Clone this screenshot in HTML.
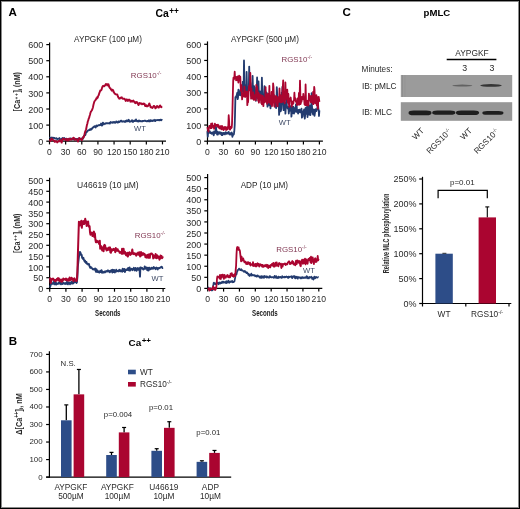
<!DOCTYPE html>
<html><head><meta charset="utf-8"><style>
html,body{margin:0;padding:0;background:#fff;}
#fig{position:relative;width:520px;height:509px;overflow:hidden;background:#fff;}
#fig svg{position:absolute;left:0;top:0;will-change:transform;}
#frame{position:absolute;left:0;top:0;width:518px;height:507px;border:1px solid #000;box-shadow:inset 0 0 0 1px #8a8a8a;pointer-events:none;}
text{font-family:"Liberation Sans", sans-serif;}
</style></head><body>
<div id="fig">
<svg width="520" height="509" viewBox="0 0 520 509" font-family='"Liberation Sans", sans-serif'>
<text x="8.6" y="16" font-size="11.6" text-anchor="start" font-weight="bold" fill="#000" >A</text>
<text x="342.6" y="16" font-size="11.6" text-anchor="start" font-weight="bold" fill="#000" >C</text>
<text x="8.8" y="344.8" font-size="11.6" text-anchor="start" font-weight="bold" fill="#000" >B</text>
<text x="155.6" y="17.4" font-size="10.4" font-weight="bold" fill="#000">Ca<tspan font-size="8.2" dx="0.4" dy="-3.4">++</tspan></text>
<text x="128.5" y="345.7" font-size="9.9" font-weight="bold" fill="#000">Ca<tspan font-size="8.0" dx="0.5" dy="-3.2">++</tspan></text>
<text x="423.6" y="16.4" font-size="9.6" text-anchor="start" font-weight="bold" fill="#000" >pMLC</text>
<line x1="49.6" y1="42.4" x2="49.6" y2="141.8" stroke="#000" stroke-width="1.2"/>
<line x1="46.3" y1="141.2" x2="49.6" y2="141.2" stroke="#000" stroke-width="1.2"/>
<text x="43.2" y="144.8" font-size="9.0" text-anchor="end" font-weight="normal" fill="#2a2a2a" >0</text>
<line x1="46.3" y1="125.1" x2="49.6" y2="125.1" stroke="#000" stroke-width="1.2"/>
<text x="43.2" y="128.7" font-size="9.0" text-anchor="end" font-weight="normal" fill="#2a2a2a" >100</text>
<line x1="46.3" y1="109" x2="49.6" y2="109" stroke="#000" stroke-width="1.2"/>
<text x="43.2" y="112.6" font-size="9.0" text-anchor="end" font-weight="normal" fill="#2a2a2a" >200</text>
<line x1="46.3" y1="92.9" x2="49.6" y2="92.9" stroke="#000" stroke-width="1.2"/>
<text x="43.2" y="96.5" font-size="9.0" text-anchor="end" font-weight="normal" fill="#2a2a2a" >300</text>
<line x1="46.3" y1="76.8" x2="49.6" y2="76.8" stroke="#000" stroke-width="1.2"/>
<text x="43.2" y="80.4" font-size="9.0" text-anchor="end" font-weight="normal" fill="#2a2a2a" >400</text>
<line x1="46.3" y1="60.7" x2="49.6" y2="60.7" stroke="#000" stroke-width="1.2"/>
<text x="43.2" y="64.3" font-size="9.0" text-anchor="end" font-weight="normal" fill="#2a2a2a" >500</text>
<line x1="46.3" y1="44.6" x2="49.6" y2="44.6" stroke="#000" stroke-width="1.2"/>
<text x="43.2" y="48.2" font-size="9.0" text-anchor="end" font-weight="normal" fill="#2a2a2a" >600</text>
<line x1="49.5" y1="141.2" x2="166" y2="141.2" stroke="#000" stroke-width="1.2"/>
<line x1="49.5" y1="141.2" x2="49.5" y2="144.4" stroke="#000" stroke-width="1.2"/>
<text x="49.5" y="155" font-size="8.6" text-anchor="middle" font-weight="normal" fill="#2a2a2a" >0</text>
<line x1="65.64" y1="141.2" x2="65.64" y2="144.4" stroke="#000" stroke-width="1.2"/>
<text x="65.64" y="155" font-size="8.6" text-anchor="middle" font-weight="normal" fill="#2a2a2a" >30</text>
<line x1="81.78" y1="141.2" x2="81.78" y2="144.4" stroke="#000" stroke-width="1.2"/>
<text x="81.78" y="155" font-size="8.6" text-anchor="middle" font-weight="normal" fill="#2a2a2a" >60</text>
<line x1="97.92" y1="141.2" x2="97.92" y2="144.4" stroke="#000" stroke-width="1.2"/>
<text x="97.92" y="155" font-size="8.6" text-anchor="middle" font-weight="normal" fill="#2a2a2a" >90</text>
<line x1="114.06" y1="141.2" x2="114.06" y2="144.4" stroke="#000" stroke-width="1.2"/>
<text x="114.06" y="155" font-size="8.6" text-anchor="middle" font-weight="normal" fill="#2a2a2a" >120</text>
<line x1="130.2" y1="141.2" x2="130.2" y2="144.4" stroke="#000" stroke-width="1.2"/>
<text x="130.2" y="155" font-size="8.6" text-anchor="middle" font-weight="normal" fill="#2a2a2a" >150</text>
<line x1="146.34" y1="141.2" x2="146.34" y2="144.4" stroke="#000" stroke-width="1.2"/>
<text x="146.34" y="155" font-size="8.6" text-anchor="middle" font-weight="normal" fill="#2a2a2a" >180</text>
<line x1="162.48" y1="141.2" x2="162.48" y2="144.4" stroke="#000" stroke-width="1.2"/>
<text x="162.48" y="155" font-size="8.6" text-anchor="middle" font-weight="normal" fill="#2a2a2a" >210</text>
<text x="108" y="42.2" font-size="8.2" text-anchor="middle" font-weight="normal" fill="#2a2a2a" >AYPGKF (100 &#181;M)</text>
<text transform="translate(20.4,91.7) rotate(-90)" x="0" y="0" font-size="9.0" text-anchor="middle" font-weight="bold" fill="#2a2a2a" textLength="39.4" lengthAdjust="spacingAndGlyphs">[Ca<tspan font-size="6.0" dy="-2.6" dx="0.6" letter-spacing="0.8">++</tspan><tspan dy="2.6">]</tspan><tspan font-size="5.5" dy="1.5">i</tspan><tspan dy="-1.5"> (nM)</tspan></text>
<polyline points="49.5,137.9 49.9,137.6 50.4,137.6 50.8,138.4 51.2,138.2 51.7,137.6 52.1,138.1 52.5,138.1 52.9,137.7 53.4,137.9 53.8,138.0 54.2,137.9 54.7,138.2 55.1,138.5 55.5,138.5 56.0,138.3 56.4,138.2 56.8,138.6 57.2,139.0 57.7,139.0 58.1,138.8 58.5,138.9 59.0,138.5 59.4,138.1 59.8,139.6 60.3,140.6 60.7,139.7 61.1,139.2 61.6,139.0 62.0,138.8 62.4,138.1 62.8,138.6 63.3,139.5 63.7,138.3 64.1,138.0 64.6,138.5 65.0,138.9 65.4,139.7 65.9,139.5 66.3,138.8 66.7,139.4 67.1,139.6 67.6,139.2 68.0,139.3 68.4,139.3 68.9,138.9 69.3,138.9 69.7,139.1 70.2,138.9 70.6,138.4 71.0,138.5 71.5,139.1 71.9,139.0 72.3,138.9 72.7,138.8 73.2,139.0 73.6,139.0 74.0,138.6 74.5,139.4 74.9,139.5 75.3,139.0 75.8,138.8 76.2,139.2 76.6,139.7 77.0,139.3 77.5,139.0 77.9,139.0 78.3,138.6 78.8,139.3 79.2,139.5 79.6,138.4 80.1,138.6 80.5,139.3 80.9,139.0 81.3,138.6 81.8,138.5 82.2,138.7 82.6,139.1 83.1,138.3 83.5,137.2 83.9,136.1 84.4,135.2 84.8,135.4 85.2,135.2 85.7,133.6 86.1,132.2 86.5,132.0 86.9,131.9 87.4,131.2 87.8,130.7 88.2,130.3 88.7,130.1 89.1,130.2 89.5,130.1 90.0,129.3 90.4,129.8 90.8,129.9 91.2,128.8 91.7,129.0 92.1,128.6 92.5,128.0 93.0,127.5 93.4,127.1 93.8,126.9 94.3,126.3 94.7,126.2 95.1,126.8 95.6,127.4 96.0,126.2 96.4,125.6 96.8,126.3 97.3,126.1 97.7,125.7 98.1,125.3 98.6,125.1 99.0,125.2 99.4,125.3 99.9,125.0 100.3,125.0 100.7,124.7 101.1,123.6 101.6,124.3 102.0,125.6 102.4,124.6 102.9,122.7 103.3,123.1 103.7,124.4 104.2,123.8 104.6,123.6 105.0,123.9 105.5,123.7 105.9,123.2 106.3,123.2 106.7,123.2 107.2,123.1 107.6,123.4 108.0,123.4 108.5,123.4 108.9,123.2 109.3,123.2 109.8,123.6 110.2,122.6 110.6,122.1 111.0,122.6 111.5,122.4 111.9,122.4 112.3,122.7 112.8,122.3 113.2,122.0 113.6,122.6 114.1,122.3 114.5,122.0 114.9,122.7 115.4,122.7 115.8,122.5 116.2,121.5 116.6,121.8 117.1,122.3 117.5,122.6 117.9,122.6 118.4,121.5 118.8,121.5 119.2,122.0 119.7,121.8 120.1,121.3 120.5,121.1 120.9,120.6 121.4,120.7 121.8,121.6 122.2,121.7 122.7,121.5 123.1,121.4 123.5,121.3 124.0,121.3 124.4,121.8 124.8,121.6 125.3,121.1 125.7,121.8 126.1,121.3 126.5,120.4 127.0,120.4 127.4,120.8 127.8,121.3 128.3,120.3 128.7,119.7 129.1,121.1 129.6,121.7 130.0,121.3 130.4,121.6 130.8,121.5 131.3,121.1 131.7,120.7 132.1,120.2 132.6,121.6 133.0,121.9 133.4,121.5 133.9,121.1 134.3,120.5 134.7,120.7 135.1,121.1 135.6,120.7 136.0,119.5 136.4,120.6 136.9,121.2 137.3,121.0 137.7,121.1 138.2,121.4 138.6,120.7 139.0,120.5 139.5,121.3 139.9,120.8 140.3,120.9 140.7,121.2 141.2,121.1 141.6,121.1 142.0,121.3 142.5,121.4 142.9,121.0 143.3,121.0 143.8,120.9 144.2,120.9 144.6,120.6 145.0,120.6 145.5,120.9 145.9,121.1 146.3,121.2 146.8,121.4 147.2,121.0 147.6,120.9 148.1,121.3 148.5,120.8 148.9,120.3 149.4,120.6 149.8,121.4 150.2,121.1 150.6,120.2 151.1,120.9 151.5,120.7 151.9,120.4 152.4,121.1 152.8,120.7 153.2,120.4 153.7,120.3 154.1,120.8 154.5,120.2 154.9,119.8 155.4,121.0 155.8,120.5 156.2,120.1 156.7,120.1 157.1,120.1 157.5,120.2 158.0,120.0 158.4,120.2 158.8,120.0 159.3,119.9 159.7,120.4 160.1,120.2 160.5,119.7 161.0,119.8 161.4,120.2 161.8,119.9 162.3,120.2" fill="none" stroke="#233b6f" stroke-width="1.9" stroke-linejoin="round"/>
<polyline points="49.5,139.4 49.9,139.7 50.4,141.0 50.8,140.1 51.2,139.4 51.7,138.6 52.1,139.1 52.5,139.7 52.9,140.0 53.4,140.2 53.8,140.6 54.2,140.7 54.7,141.8 55.1,141.6 55.5,141.6 56.0,141.0 56.4,141.6 56.8,141.6 57.2,142.4 57.7,141.8 58.1,141.6 58.5,140.9 59.0,140.9 59.4,141.3 59.8,140.9 60.3,140.0 60.7,140.1 61.1,141.1 61.6,142.6 62.0,141.3 62.4,140.2 62.8,138.8 63.3,138.8 63.7,138.8 64.1,139.1 64.6,139.5 65.0,139.2 65.4,139.9 65.9,140.0 66.3,140.2 66.7,138.8 67.1,139.0 67.6,139.6 68.0,140.7 68.4,139.8 68.9,139.4 69.3,138.5 69.7,139.8 70.2,139.2 70.6,139.3 71.0,139.1 71.5,139.5 71.9,139.4 72.3,138.7 72.7,138.3 73.2,137.8 73.6,137.7 74.0,138.2 74.5,139.7 74.9,139.5 75.3,139.5 75.8,139.2 76.2,139.5 76.6,139.1 77.0,139.5 77.5,140.1 77.9,141.6 78.3,140.5 78.8,139.7 79.2,137.9 79.6,138.5 80.1,138.8 80.5,139.3 80.9,139.3 81.3,139.5 81.8,140.2 82.2,139.3 82.6,138.2 83.1,137.1 83.5,137.6 83.9,136.5 84.4,134.7 84.8,133.1 85.2,131.5 85.7,130.4 86.1,129.2 86.5,127.2 86.9,125.1 87.4,123.5 87.8,121.3 88.2,120.6 88.7,118.5 89.1,118.0 89.5,116.2 90.0,114.7 90.4,113.0 90.8,111.9 91.2,111.3 91.7,110.5 92.1,109.9 92.5,108.7 93.0,107.2 93.4,105.0 93.8,103.6 94.3,101.7 94.7,101.0 95.1,100.5 95.6,99.8 96.0,99.6 96.4,98.1 96.8,98.6 97.3,97.1 97.7,97.7 98.1,96.0 98.6,95.4 99.0,94.1 99.4,92.9 99.9,91.7 100.3,90.4 100.7,90.7 101.1,90.3 101.6,89.6 102.0,88.0 102.4,86.8 102.9,86.1 103.3,85.8 103.7,86.2 104.2,86.2 104.6,85.9 105.0,85.5 105.5,84.6 105.9,83.9 106.3,84.3 106.7,84.4 107.2,85.4 107.6,84.2 108.0,84.6 108.5,84.3 108.9,86.1 109.3,87.1 109.8,87.9 110.2,88.4 110.6,88.4 111.0,89.7 111.5,89.7 111.9,90.7 112.3,89.7 112.8,90.6 113.2,90.2 113.6,92.1 114.1,92.2 114.5,93.6 114.9,93.6 115.4,94.2 115.8,94.4 116.2,94.4 116.6,94.5 117.1,94.4 117.5,95.0 117.9,96.4 118.4,97.5 118.8,97.9 119.2,98.7 119.7,98.2 120.1,98.4 120.5,97.6 120.9,97.7 121.4,97.4 121.8,97.3 122.2,98.4 122.7,98.7 123.1,98.7 123.5,98.8 124.0,98.6 124.4,98.7 124.8,99.3 125.3,99.9 125.7,100.9 126.1,99.5 126.5,99.4 127.0,99.4 127.4,100.5 127.8,101.0 128.3,100.7 128.7,99.7 129.1,99.6 129.6,99.7 130.0,100.3 130.4,101.7 130.8,101.5 131.3,101.5 131.7,100.8 132.1,101.4 132.6,101.6 133.0,100.8 133.4,100.5 133.9,101.4 134.3,101.7 134.7,102.8 135.1,102.2 135.6,103.2 136.0,102.1 136.4,102.8 136.9,102.0 137.3,102.5 137.7,103.0 138.2,104.6 138.6,105.0 139.0,103.8 139.5,102.9 139.9,102.9 140.3,103.7 140.7,103.5 141.2,103.5 141.6,103.4 142.0,104.3 142.5,104.1 142.9,103.7 143.3,104.0 143.8,103.6 144.2,104.0 144.6,103.8 145.0,105.8 145.5,106.0 145.9,105.6 146.3,105.2 146.8,106.4 147.2,106.3 147.6,106.4 148.1,105.9 148.5,105.3 148.9,104.0 149.4,103.4 149.8,105.0 150.2,105.7 150.6,107.2 151.1,107.0 151.5,107.6 151.9,107.2 152.4,108.0 152.8,107.4 153.2,106.8 153.7,106.0 154.1,105.9 154.5,106.4 154.9,107.0 155.4,108.3 155.8,108.1 156.2,107.2 156.7,106.4 157.1,106.0 157.5,106.9 158.0,107.0 158.4,107.6 158.8,107.6 159.3,106.5 159.7,105.7 160.1,105.4 160.5,106.6 161.0,107.0 161.4,107.3 161.8,106.7 162.3,106.6" fill="none" stroke="#aa0530" stroke-width="1.9" stroke-linejoin="round"/>
<text x="130.8" y="77.7" font-size="7.9" fill="#803752">RGS10<tspan font-size="4.9" dy="-3.2">-/-</tspan></text>
<text x="134.1" y="130.6" font-size="7.6" text-anchor="start" font-weight="normal" fill="#3b4763" >WT</text>
<line x1="207.5" y1="41.4" x2="207.5" y2="141.8" stroke="#000" stroke-width="1.2"/>
<line x1="204.2" y1="141.2" x2="207.5" y2="141.2" stroke="#000" stroke-width="1.2"/>
<text x="201.2" y="144.8" font-size="9.0" text-anchor="end" font-weight="normal" fill="#2a2a2a" >0</text>
<line x1="204.2" y1="125.05" x2="207.5" y2="125.05" stroke="#000" stroke-width="1.2"/>
<text x="201.2" y="128.65" font-size="9.0" text-anchor="end" font-weight="normal" fill="#2a2a2a" >100</text>
<line x1="204.2" y1="108.9" x2="207.5" y2="108.9" stroke="#000" stroke-width="1.2"/>
<text x="201.2" y="112.5" font-size="9.0" text-anchor="end" font-weight="normal" fill="#2a2a2a" >200</text>
<line x1="204.2" y1="92.75" x2="207.5" y2="92.75" stroke="#000" stroke-width="1.2"/>
<text x="201.2" y="96.35" font-size="9.0" text-anchor="end" font-weight="normal" fill="#2a2a2a" >300</text>
<line x1="204.2" y1="76.6" x2="207.5" y2="76.6" stroke="#000" stroke-width="1.2"/>
<text x="201.2" y="80.2" font-size="9.0" text-anchor="end" font-weight="normal" fill="#2a2a2a" >400</text>
<line x1="204.2" y1="60.45" x2="207.5" y2="60.45" stroke="#000" stroke-width="1.2"/>
<text x="201.2" y="64.05" font-size="9.0" text-anchor="end" font-weight="normal" fill="#2a2a2a" >500</text>
<line x1="204.2" y1="44.3" x2="207.5" y2="44.3" stroke="#000" stroke-width="1.2"/>
<text x="201.2" y="47.9" font-size="9.0" text-anchor="end" font-weight="normal" fill="#2a2a2a" >600</text>
<line x1="207.4" y1="141.2" x2="322.9" y2="141.2" stroke="#000" stroke-width="1.2"/>
<line x1="207.4" y1="141.2" x2="207.4" y2="144.4" stroke="#000" stroke-width="1.2"/>
<text x="207.4" y="155" font-size="8.6" text-anchor="middle" font-weight="normal" fill="#2a2a2a" >0</text>
<line x1="223.4" y1="141.2" x2="223.4" y2="144.4" stroke="#000" stroke-width="1.2"/>
<text x="223.4" y="155" font-size="8.6" text-anchor="middle" font-weight="normal" fill="#2a2a2a" >30</text>
<line x1="239.4" y1="141.2" x2="239.4" y2="144.4" stroke="#000" stroke-width="1.2"/>
<text x="239.4" y="155" font-size="8.6" text-anchor="middle" font-weight="normal" fill="#2a2a2a" >60</text>
<line x1="255.4" y1="141.2" x2="255.4" y2="144.4" stroke="#000" stroke-width="1.2"/>
<text x="255.4" y="155" font-size="8.6" text-anchor="middle" font-weight="normal" fill="#2a2a2a" >90</text>
<line x1="271.4" y1="141.2" x2="271.4" y2="144.4" stroke="#000" stroke-width="1.2"/>
<text x="271.4" y="155" font-size="8.6" text-anchor="middle" font-weight="normal" fill="#2a2a2a" >120</text>
<line x1="287.4" y1="141.2" x2="287.4" y2="144.4" stroke="#000" stroke-width="1.2"/>
<text x="287.4" y="155" font-size="8.6" text-anchor="middle" font-weight="normal" fill="#2a2a2a" >150</text>
<line x1="303.4" y1="141.2" x2="303.4" y2="144.4" stroke="#000" stroke-width="1.2"/>
<text x="303.4" y="155" font-size="8.6" text-anchor="middle" font-weight="normal" fill="#2a2a2a" >180</text>
<line x1="319.4" y1="141.2" x2="319.4" y2="144.4" stroke="#000" stroke-width="1.2"/>
<text x="319.4" y="155" font-size="8.6" text-anchor="middle" font-weight="normal" fill="#2a2a2a" >210</text>
<text x="265" y="42.2" font-size="8.2" text-anchor="middle" font-weight="normal" fill="#2a2a2a" >AYPGKF (500 &#181;M)</text>
<polyline points="207.4,131.1 207.8,136.6 208.1,132.1 208.5,133.1 208.9,131.7 209.3,132.7 209.6,131.1 210.0,131.7 210.4,133.1 210.8,132.6 211.1,132.7 211.5,133.7 211.9,133.5 212.3,132.5 212.6,132.5 213.0,133.9 213.4,133.7 213.7,135.4 214.1,131.4 214.5,133.6 214.9,132.3 215.2,133.1 215.6,131.2 216.0,126.8 216.4,130.6 216.7,131.7 217.1,134.5 217.5,132.0 217.9,134.5 218.2,132.8 218.6,132.3 219.0,133.2 219.3,132.1 219.7,133.5 220.1,133.9 220.5,132.3 220.8,132.5 221.2,133.8 221.6,135.0 222.0,132.8 222.3,135.2 222.7,134.2 223.1,134.4 223.5,132.8 223.8,133.4 224.2,133.1 224.6,133.3 224.9,134.4 225.3,133.1 225.7,132.1 226.1,133.7 226.4,133.0 226.8,133.9 227.2,132.6 227.6,133.0 227.9,132.8 228.3,133.4 228.7,131.9 229.1,134.2 229.4,134.2 229.8,134.5 230.2,133.1 230.5,134.5 230.9,134.6 231.3,133.0 231.7,132.5 232.0,133.2 232.4,136.9 232.8,135.0 233.2,135.1 233.5,134.6 233.9,134.1 234.3,131.2 234.7,125.3 235.0,115.0 235.4,97.2 235.8,97.7 236.1,96.1 236.5,97.1 236.9,94.2 237.3,92.6 237.6,99.1 238.0,97.9 238.4,89.7 238.8,90.1 239.1,93.6 239.5,94.9 239.9,92.4 240.3,95.3 240.6,92.8 241.0,87.0 241.4,91.4 241.7,88.4 242.1,86.4 242.5,87.6 242.9,81.6 243.2,92.4 243.6,92.5 244.0,60.4 244.4,84.2 244.7,87.0 245.1,88.9 245.5,95.3 245.9,92.1 246.2,93.8 246.6,71.8 247.0,85.3 247.3,94.1 247.7,90.6 248.1,91.5 248.5,88.2 248.8,90.7 249.2,66.6 249.6,82.4 250.0,84.0 250.3,82.9 250.7,88.5 251.1,95.8 251.5,89.0 251.8,93.7 252.2,96.0 252.6,75.8 252.9,86.4 253.3,93.8 253.7,91.3 254.1,86.1 254.4,90.6 254.8,96.0 255.2,91.0 255.6,93.3 255.9,100.8 256.3,87.6 256.7,92.5 257.1,77.5 257.4,87.3 257.8,97.9 258.2,93.2 258.5,81.4 258.9,95.0 259.3,100.3 259.7,95.6 260.0,91.4 260.4,97.9 260.8,95.1 261.2,97.3 261.5,94.5 261.9,77.6 262.3,94.7 262.7,99.6 263.0,97.4 263.4,100.8 263.8,101.5 264.1,93.9 264.5,86.1 264.9,96.5 265.3,99.4 265.6,91.3 266.0,97.2 266.4,99.3 266.8,92.9 267.1,101.1 267.5,106.7 267.9,105.3 268.3,104.4 268.6,99.8 269.0,97.9 269.4,105.0 269.7,97.0 270.1,104.2 270.5,108.4 270.9,103.9 271.2,100.1 271.6,101.4 272.0,99.8 272.4,102.8 272.7,100.3 273.1,98.4 273.5,99.1 273.9,95.0 274.2,97.2 274.6,99.3 275.0,97.1 275.3,101.5 275.7,104.9 276.1,108.1 276.5,99.4 276.8,87.2 277.2,93.7 277.6,104.1 278.0,102.4 278.3,98.4 278.7,102.6 279.1,114.9 279.5,109.1 279.8,100.3 280.2,107.1 280.6,111.3 280.9,110.8 281.3,108.5 281.7,92.6 282.1,99.9 282.4,86.8 282.8,94.7 283.2,104.4 283.6,110.2 283.9,109.8 284.3,107.5 284.7,109.1 285.1,102.6 285.4,113.7 285.8,107.4 286.2,107.7 286.5,98.8 286.9,106.1 287.3,107.8 287.7,107.7 288.0,108.8 288.4,107.0 288.8,113.5 289.2,107.7 289.5,111.0 289.9,109.7 290.3,106.8 290.7,108.0 291.0,105.8 291.4,116.7 291.8,113.4 292.1,107.0 292.5,113.2 292.9,111.5 293.3,106.7 293.6,108.8 294.0,113.6 294.4,108.2 294.8,108.7 295.1,111.0 295.5,111.5 295.9,104.5 296.3,111.9 296.6,104.5 297.0,110.6 297.4,110.4 297.7,110.3 298.1,113.7 298.5,109.9 298.9,110.6 299.2,111.6 299.6,109.7 300.0,112.4 300.4,112.3 300.7,111.4 301.1,111.8 301.5,108.7 301.9,117.7 302.2,112.5 302.6,116.8 303.0,113.1 303.3,111.2 303.7,111.8 304.1,109.4 304.5,111.0 304.8,118.7 305.2,114.6 305.6,107.9 306.0,107.9 306.3,107.9 306.7,113.9 307.1,106.4 307.5,117.0 307.8,103.3 308.2,108.0 308.6,111.2 308.9,114.7 309.3,112.7 309.7,105.4 310.1,111.1 310.4,115.1 310.8,111.7 311.2,111.5 311.6,93.2 311.9,104.2 312.3,111.8 312.7,112.7 313.1,114.5 313.4,111.1 313.8,109.4 314.2,110.1 314.5,115.8 314.9,113.4 315.3,110.4 315.7,109.2 316.0,110.6 316.4,111.1 316.8,109.7 317.2,109.0 317.5,107.1 317.9,101.2 318.3,108.1 318.7,110.1 319.0,116.0 319.4,110.4" fill="none" stroke="#233b6f" stroke-width="1.8" stroke-linejoin="round"/>
<polyline points="207.4,127.1 207.8,129.1 208.1,129.8 208.5,131.5 208.9,128.1 209.3,125.9 209.6,127.4 210.0,126.7 210.4,126.0 210.8,128.3 211.1,123.7 211.5,128.2 211.9,126.4 212.3,123.3 212.6,126.8 213.0,126.4 213.4,127.1 213.7,125.9 214.1,128.9 214.5,126.9 214.9,123.7 215.2,125.5 215.6,126.0 216.0,125.1 216.4,124.9 216.7,125.3 217.1,125.0 217.5,126.7 217.9,124.7 218.2,127.2 218.6,125.5 219.0,126.7 219.3,128.4 219.7,127.3 220.1,128.6 220.5,126.1 220.8,127.6 221.2,126.6 221.6,129.3 222.0,125.9 222.3,128.6 222.7,126.6 223.1,127.4 223.5,130.0 223.8,128.2 224.2,129.3 224.6,128.1 224.9,126.8 225.3,127.7 225.7,127.2 226.1,130.1 226.4,128.3 226.8,128.1 227.2,127.2 227.6,129.4 227.9,127.9 228.3,126.5 228.7,115.2 229.1,120.7 229.4,126.8 229.8,129.7 230.2,129.7 230.5,126.8 230.9,127.5 231.3,128.1 231.7,127.5 232.0,124.1 232.4,112.1 232.8,95.7 233.2,80.8 233.5,77.6 233.9,79.4 234.3,78.1 234.7,71.7 235.0,77.3 235.4,78.0 235.8,76.9 236.1,80.4 236.5,77.3 236.9,80.1 237.3,76.7 237.6,76.5 238.0,79.6 238.4,82.7 238.8,79.4 239.1,75.7 239.5,76.9 239.9,78.3 240.3,76.7 240.6,85.1 241.0,91.0 241.4,84.9 241.7,88.9 242.1,99.4 242.5,93.1 242.9,96.8 243.2,95.3 243.6,95.4 244.0,96.1 244.4,86.7 244.7,91.3 245.1,97.0 245.5,95.5 245.9,94.3 246.2,91.7 246.6,96.1 247.0,91.7 247.3,105.2 247.7,101.0 248.1,102.2 248.5,94.5 248.8,88.4 249.2,85.3 249.6,90.1 250.0,84.0 250.3,72.9 250.7,84.9 251.1,98.7 251.5,88.6 251.8,96.4 252.2,95.8 252.6,96.2 252.9,98.9 253.3,92.3 253.7,99.8 254.1,99.2 254.4,98.3 254.8,95.2 255.2,99.9 255.6,100.2 255.9,97.9 256.3,84.9 256.7,95.5 257.1,86.7 257.4,91.1 257.8,97.0 258.2,101.0 258.5,92.9 258.9,102.7 259.3,99.2 259.7,95.6 260.0,94.5 260.4,97.9 260.8,96.9 261.2,103.0 261.5,95.3 261.9,104.3 262.3,101.7 262.7,95.9 263.0,96.8 263.4,106.1 263.8,97.8 264.1,101.3 264.5,102.5 264.9,99.2 265.3,99.5 265.6,87.1 266.0,101.7 266.4,99.8 266.8,100.5 267.1,103.9 267.5,94.6 267.9,93.9 268.3,102.3 268.6,98.9 269.0,101.1 269.4,85.8 269.7,102.6 270.1,97.4 270.5,104.3 270.9,95.6 271.2,99.2 271.6,92.0 272.0,106.1 272.4,100.8 272.7,100.6 273.1,83.4 273.5,86.8 273.9,97.7 274.2,105.6 274.6,106.7 275.0,99.9 275.3,96.3 275.7,96.7 276.1,95.9 276.5,101.8 276.8,102.1 277.2,106.1 277.6,106.3 278.0,97.2 278.3,101.9 278.7,99.8 279.1,101.9 279.5,88.4 279.8,95.8 280.2,94.8 280.6,97.9 280.9,102.4 281.3,96.0 281.7,96.7 282.1,102.1 282.4,91.3 282.8,86.8 283.2,80.4 283.6,99.1 283.9,101.7 284.3,100.1 284.7,103.3 285.1,100.0 285.4,82.5 285.8,94.2 286.2,98.4 286.5,94.7 286.9,99.2 287.3,89.7 287.7,102.7 288.0,99.5 288.4,94.0 288.8,102.9 289.2,106.9 289.5,100.4 289.9,100.4 290.3,98.8 290.7,97.5 291.0,100.4 291.4,101.5 291.8,106.6 292.1,104.1 292.5,101.7 292.9,103.4 293.3,103.7 293.6,100.9 294.0,100.6 294.4,92.7 294.8,99.7 295.1,97.9 295.5,98.6 295.9,101.9 296.3,101.9 296.6,101.3 297.0,105.1 297.4,102.5 297.7,98.3 298.1,100.1 298.5,104.5 298.9,92.9 299.2,104.8 299.6,98.9 300.0,80.6 300.4,96.6 300.7,104.0 301.1,100.9 301.5,101.6 301.9,96.9 302.2,99.5 302.6,99.4 303.0,98.9 303.3,93.9 303.7,98.4 304.1,97.7 304.5,104.1 304.8,98.5 305.2,105.3 305.6,84.4 306.0,100.5 306.3,104.1 306.7,105.1 307.1,101.4 307.5,100.7 307.8,103.1 308.2,105.5 308.6,103.9 308.9,93.6 309.3,97.2 309.7,100.4 310.1,96.8 310.4,96.3 310.8,102.0 311.2,95.8 311.6,97.3 311.9,102.4 312.3,98.0 312.7,103.5 313.1,91.9 313.4,104.2 313.8,96.0 314.2,86.9 314.5,89.4 314.9,99.6 315.3,103.4 315.7,100.3 316.0,99.7 316.4,95.2 316.8,105.3 317.2,96.9 317.5,99.2 317.9,108.6 318.3,99.1 318.7,96.9 319.0,98.8 319.4,101.9" fill="none" stroke="#aa0530" stroke-width="1.8" stroke-linejoin="round"/>
<text x="281.5" y="62" font-size="7.9" fill="#803752">RGS10<tspan font-size="4.9" dy="-3.2">-/-</tspan></text>
<text x="278.8" y="125" font-size="7.6" text-anchor="start" font-weight="normal" fill="#3b4763" >WT</text>
<line x1="49.6" y1="177.7" x2="49.6" y2="289.1" stroke="#000" stroke-width="1.2"/>
<line x1="46.3" y1="288.5" x2="49.6" y2="288.5" stroke="#000" stroke-width="1.2"/>
<text x="43.2" y="292.1" font-size="9.0" text-anchor="end" font-weight="normal" fill="#2a2a2a" >0</text>
<line x1="46.3" y1="277.7" x2="49.6" y2="277.7" stroke="#000" stroke-width="1.2"/>
<text x="43.2" y="281.3" font-size="9.0" text-anchor="end" font-weight="normal" fill="#2a2a2a" >50</text>
<line x1="46.3" y1="266.9" x2="49.6" y2="266.9" stroke="#000" stroke-width="1.2"/>
<text x="43.2" y="270.5" font-size="9.0" text-anchor="end" font-weight="normal" fill="#2a2a2a" >100</text>
<line x1="46.3" y1="256.1" x2="49.6" y2="256.1" stroke="#000" stroke-width="1.2"/>
<text x="43.2" y="259.7" font-size="9.0" text-anchor="end" font-weight="normal" fill="#2a2a2a" >150</text>
<line x1="46.3" y1="245.3" x2="49.6" y2="245.3" stroke="#000" stroke-width="1.2"/>
<text x="43.2" y="248.9" font-size="9.0" text-anchor="end" font-weight="normal" fill="#2a2a2a" >200</text>
<line x1="46.3" y1="234.5" x2="49.6" y2="234.5" stroke="#000" stroke-width="1.2"/>
<text x="43.2" y="238.1" font-size="9.0" text-anchor="end" font-weight="normal" fill="#2a2a2a" >250</text>
<line x1="46.3" y1="223.7" x2="49.6" y2="223.7" stroke="#000" stroke-width="1.2"/>
<text x="43.2" y="227.3" font-size="9.0" text-anchor="end" font-weight="normal" fill="#2a2a2a" >300</text>
<line x1="46.3" y1="212.9" x2="49.6" y2="212.9" stroke="#000" stroke-width="1.2"/>
<text x="43.2" y="216.5" font-size="9.0" text-anchor="end" font-weight="normal" fill="#2a2a2a" >350</text>
<line x1="46.3" y1="202.1" x2="49.6" y2="202.1" stroke="#000" stroke-width="1.2"/>
<text x="43.2" y="205.7" font-size="9.0" text-anchor="end" font-weight="normal" fill="#2a2a2a" >400</text>
<line x1="46.3" y1="191.3" x2="49.6" y2="191.3" stroke="#000" stroke-width="1.2"/>
<text x="43.2" y="194.9" font-size="9.0" text-anchor="end" font-weight="normal" fill="#2a2a2a" >450</text>
<line x1="46.3" y1="180.5" x2="49.6" y2="180.5" stroke="#000" stroke-width="1.2"/>
<text x="43.2" y="184.1" font-size="9.0" text-anchor="end" font-weight="normal" fill="#2a2a2a" >500</text>
<line x1="49.6" y1="288.5" x2="165.3" y2="288.5" stroke="#000" stroke-width="1.2"/>
<line x1="49.7" y1="288.5" x2="49.7" y2="291.7" stroke="#000" stroke-width="1.2"/>
<text x="49.7" y="302.3" font-size="8.6" text-anchor="middle" font-weight="normal" fill="#2a2a2a" >0</text>
<line x1="65.9" y1="288.5" x2="65.9" y2="291.7" stroke="#000" stroke-width="1.2"/>
<text x="65.9" y="302.3" font-size="8.6" text-anchor="middle" font-weight="normal" fill="#2a2a2a" >30</text>
<line x1="82.1" y1="288.5" x2="82.1" y2="291.7" stroke="#000" stroke-width="1.2"/>
<text x="82.1" y="302.3" font-size="8.6" text-anchor="middle" font-weight="normal" fill="#2a2a2a" >60</text>
<line x1="98.3" y1="288.5" x2="98.3" y2="291.7" stroke="#000" stroke-width="1.2"/>
<text x="98.3" y="302.3" font-size="8.6" text-anchor="middle" font-weight="normal" fill="#2a2a2a" >90</text>
<line x1="114.5" y1="288.5" x2="114.5" y2="291.7" stroke="#000" stroke-width="1.2"/>
<text x="114.5" y="302.3" font-size="8.6" text-anchor="middle" font-weight="normal" fill="#2a2a2a" >120</text>
<line x1="130.7" y1="288.5" x2="130.7" y2="291.7" stroke="#000" stroke-width="1.2"/>
<text x="130.7" y="302.3" font-size="8.6" text-anchor="middle" font-weight="normal" fill="#2a2a2a" >150</text>
<line x1="146.9" y1="288.5" x2="146.9" y2="291.7" stroke="#000" stroke-width="1.2"/>
<text x="146.9" y="302.3" font-size="8.6" text-anchor="middle" font-weight="normal" fill="#2a2a2a" >180</text>
<line x1="163.1" y1="288.5" x2="163.1" y2="291.7" stroke="#000" stroke-width="1.2"/>
<text x="163.1" y="302.3" font-size="8.6" text-anchor="middle" font-weight="normal" fill="#2a2a2a" >210</text>
<text x="107.9" y="188" font-size="8.5" text-anchor="middle" font-weight="normal" fill="#2a2a2a" >U46619 (10 &#181;M)</text>
<text transform="translate(20,233.3) rotate(-90)" x="0" y="0" font-size="9.0" text-anchor="middle" font-weight="bold" fill="#2a2a2a" textLength="39.6" lengthAdjust="spacingAndGlyphs">[Ca<tspan font-size="6.0" dy="-2.6" dx="0.6" letter-spacing="0.8">++</tspan><tspan dy="2.6">]</tspan><tspan font-size="5.5" dy="1.5">i</tspan><tspan dy="-1.5"> (nM)</tspan></text>
<polyline points="49.7,287.4 50.1,287.0 50.6,285.2 51.0,284.1 51.4,283.2 51.9,283.7 52.3,283.9 52.7,283.9 53.2,282.7 53.6,281.9 54.0,283.0 54.5,284.3 54.9,284.0 55.3,281.9 55.7,283.0 56.2,284.6 56.6,283.2 57.0,284.1 57.5,283.7 57.9,283.5 58.3,283.7 58.8,282.6 59.2,283.1 59.6,283.5 60.1,282.7 60.5,282.4 60.9,284.4 61.4,283.2 61.8,283.8 62.2,283.1 62.7,284.0 63.1,282.9 63.5,283.0 64.0,283.2 64.4,283.8 64.8,283.2 65.3,283.8 65.7,284.0 66.1,282.7 66.5,283.7 67.0,281.8 67.4,282.2 67.8,284.4 68.3,282.5 68.7,283.7 69.1,282.7 69.6,282.7 70.0,284.3 70.4,282.9 70.9,282.9 71.3,281.9 71.7,283.6 72.2,282.0 72.6,283.5 73.0,282.9 73.5,283.3 73.9,281.4 74.3,282.1 74.8,280.5 75.2,282.0 75.6,281.8 76.1,281.8 76.5,283.0 76.9,282.5 77.3,278.2 77.8,267.2 78.2,263.1 78.6,259.7 79.1,255.6 79.5,252.8 79.9,251.9 80.4,252.5 80.8,253.6 81.2,255.3 81.7,254.8 82.1,257.6 82.5,258.2 83.0,259.0 83.4,257.8 83.8,259.6 84.3,260.7 84.7,261.6 85.1,260.7 85.6,262.4 86.0,263.0 86.4,261.9 86.9,263.8 87.3,263.5 87.7,263.7 88.1,264.5 88.6,264.7 89.0,264.0 89.4,265.9 89.9,267.0 90.3,267.9 90.7,267.0 91.2,267.5 91.6,267.5 92.0,268.5 92.5,268.8 92.9,269.3 93.3,269.4 93.8,269.0 94.2,269.7 94.6,269.6 95.1,268.4 95.5,269.8 95.9,271.7 96.4,269.3 96.8,270.7 97.2,272.0 97.7,270.7 98.1,271.6 98.5,272.2 98.9,272.2 99.4,272.5 99.8,271.7 100.2,270.8 100.7,272.0 101.1,271.4 101.5,270.2 102.0,272.7 102.4,271.5 102.8,272.0 103.3,272.6 103.7,272.6 104.1,271.8 104.6,271.5 105.0,272.3 105.4,271.8 105.9,271.2 106.3,271.6 106.7,271.1 107.2,271.5 107.6,271.4 108.0,270.3 108.5,271.2 108.9,271.6 109.3,271.0 109.7,272.3 110.2,271.8 110.6,270.8 111.0,270.9 111.5,270.1 111.9,271.3 112.3,272.5 112.8,269.7 113.2,270.3 113.6,272.0 114.1,270.0 114.5,271.1 114.9,272.5 115.4,271.3 115.8,271.4 116.2,269.6 116.7,271.5 117.1,271.0 117.5,271.0 118.0,271.0 118.4,271.4 118.8,270.5 119.3,269.7 119.7,270.0 120.1,271.3 120.5,271.4 121.0,270.3 121.4,270.9 121.8,270.8 122.3,271.7 122.7,268.7 123.1,269.5 123.6,271.0 124.0,269.4 124.4,269.0 124.9,272.0 125.3,270.5 125.7,270.3 126.2,269.4 126.6,270.0 127.0,270.1 127.5,269.9 127.9,268.3 128.3,268.0 128.8,270.2 129.2,270.5 129.6,267.5 130.1,270.5 130.5,270.1 130.9,269.5 131.3,269.1 131.8,268.7 132.2,269.2 132.6,270.2 133.1,269.0 133.5,269.2 133.9,267.8 134.4,269.3 134.8,270.4 135.2,270.1 135.7,268.0 136.1,269.6 136.5,270.8 137.0,269.6 137.4,269.0 137.8,268.1 138.3,269.8 138.7,268.4 139.1,268.3 139.6,269.5 140.0,276.6 140.4,267.4 140.9,267.5 141.3,268.2 141.7,268.6 142.1,267.9 142.6,268.9 143.0,268.8 143.4,269.5 143.9,268.7 144.3,268.8 144.7,266.4 145.2,268.8 145.6,267.6 146.0,267.5 146.5,268.7 146.9,267.6 147.3,270.3 147.8,268.5 148.2,267.8 148.6,270.5 149.1,269.4 149.5,267.6 149.9,268.6 150.4,269.3 150.8,268.7 151.2,268.8 151.7,267.7 152.1,267.9 152.5,268.5 152.9,268.8 153.4,268.3 153.8,267.1 154.2,267.9 154.7,267.7 155.1,268.3 155.5,269.2 156.0,268.7 156.4,267.6 156.8,268.0 157.3,268.8 157.7,269.4 158.1,267.9 158.6,268.3 159.0,268.3 159.4,268.2 159.9,267.7 160.3,267.7 160.7,267.1 161.2,267.1 161.6,266.7 162.0,267.2 162.5,268.1 162.9,267.8" fill="none" stroke="#233b6f" stroke-width="1.9" stroke-linejoin="round"/>
<polyline points="49.7,279.2 50.2,278.4 50.7,283.0 51.2,280.4 51.6,279.1 52.1,278.8 52.6,279.5 53.1,278.6 53.6,279.9 54.1,279.6 54.6,279.9 55.0,281.3 55.5,281.0 56.0,279.7 56.5,280.7 57.0,278.7 57.5,278.7 58.0,278.1 58.4,280.0 58.9,278.5 59.4,281.0 59.9,280.9 60.4,279.9 60.9,279.6 61.4,281.7 61.9,281.8 62.3,279.5 62.8,280.8 63.3,278.6 63.8,279.4 64.3,279.5 64.8,279.6 65.3,278.8 65.7,280.0 66.2,278.6 66.7,280.3 67.2,280.0 67.7,280.5 68.2,279.1 68.7,279.7 69.1,280.6 69.6,277.5 70.1,280.0 70.6,279.8 71.1,279.2 71.6,277.7 72.1,279.8 72.5,278.8 73.0,279.5 73.5,281.1 74.0,278.7 74.5,278.4 75.0,279.8 75.5,279.5 75.9,281.1 76.4,281.1 76.9,279.9 77.4,271.6 77.9,253.6 78.4,237.8 78.9,221.8 79.3,225.0 79.8,225.5 80.3,222.1 80.8,224.7 81.3,220.7 81.8,227.8 82.3,223.7 82.7,221.7 83.2,221.1 83.7,224.1 84.2,224.0 84.7,222.5 85.2,218.8 85.7,221.5 86.2,221.2 86.6,225.9 87.1,224.9 87.6,225.2 88.1,221.4 88.6,226.2 89.1,226.7 89.6,226.2 90.0,232.3 90.5,234.8 91.0,232.5 91.5,234.2 92.0,232.7 92.5,236.1 93.0,233.7 93.4,232.6 93.9,231.6 94.4,237.1 94.9,233.6 95.4,239.6 95.9,242.2 96.4,242.2 96.8,240.6 97.3,242.1 97.8,241.2 98.3,241.7 98.8,242.6 99.3,244.2 99.8,240.7 100.2,248.7 100.7,248.1 101.2,246.1 101.7,247.8 102.2,250.5 102.7,247.5 103.2,247.7 103.6,251.2 104.1,245.4 104.6,244.9 105.1,245.4 105.6,248.8 106.1,248.0 106.6,250.5 107.0,248.4 107.5,250.1 108.0,248.3 108.5,249.7 109.0,247.5 109.5,247.9 110.0,247.4 110.4,252.3 110.9,252.8 111.4,249.2 111.9,250.9 112.4,249.4 112.9,249.7 113.4,250.0 113.9,248.9 114.3,249.6 114.8,249.9 115.3,252.2 115.8,248.1 116.3,250.7 116.8,249.3 117.3,250.6 117.7,249.3 118.2,251.1 118.7,251.1 119.2,251.4 119.7,252.8 120.2,252.7 120.7,252.1 121.1,252.2 121.6,253.6 122.1,248.7 122.6,253.8 123.1,252.9 123.6,248.8 124.1,253.6 124.5,251.6 125.0,251.9 125.5,253.3 126.0,255.2 126.5,255.5 127.0,253.2 127.5,252.7 127.9,256.6 128.4,253.2 128.9,254.5 129.4,252.2 129.9,253.4 130.4,254.9 130.9,254.4 131.3,253.8 131.8,251.9 132.3,249.4 132.8,253.5 133.3,254.0 133.8,253.2 134.3,254.2 134.8,253.3 135.2,253.7 135.7,254.4 136.2,255.7 136.7,254.3 137.2,253.2 137.7,254.5 138.2,252.4 138.6,253.3 139.1,254.9 139.6,252.2 140.1,256.5 140.6,253.1 141.1,252.1 141.6,255.4 142.0,255.2 142.5,253.7 143.0,253.0 143.5,254.5 144.0,254.8 144.5,253.9 145.0,254.9 145.4,257.2 145.9,255.7 146.4,255.5 146.9,257.8 147.4,254.9 147.9,256.7 148.4,254.4 148.8,257.8 149.3,257.0 149.8,257.8 150.3,253.7 150.8,253.8 151.3,253.5 151.8,253.5 152.2,254.4 152.7,254.4 153.2,258.4 153.7,255.4 154.2,256.6 154.7,256.4 155.2,257.8 155.6,254.0 156.1,255.7 156.6,258.3 157.1,255.3 157.6,256.2 158.1,257.7 158.6,256.6 159.0,257.4 159.5,259.7 160.0,258.6 160.5,255.6 161.0,255.9 161.5,256.0 162.0,258.2 162.5,257.4 162.9,256.4" fill="none" stroke="#aa0530" stroke-width="2.0" stroke-linejoin="round"/>
<text x="134.7" y="237.8" font-size="7.9" fill="#803752">RGS10<tspan font-size="4.9" dy="-3.2">-/-</tspan></text>
<text x="151.6" y="281.1" font-size="7.6" text-anchor="start" font-weight="normal" fill="#3b4763" >WT</text>
<text x="107.8" y="315.9" font-size="8.9" text-anchor="middle" font-weight="bold" fill="#1a1a1a" textLength="25.4" lengthAdjust="spacingAndGlyphs">Seconds</text>
<line x1="207.6" y1="174.1" x2="207.6" y2="289" stroke="#000" stroke-width="1.2"/>
<line x1="204.3" y1="288.4" x2="207.6" y2="288.4" stroke="#000" stroke-width="1.2"/>
<text x="201.2" y="292" font-size="9.0" text-anchor="end" font-weight="normal" fill="#2a2a2a" >0</text>
<line x1="204.3" y1="277.32" x2="207.6" y2="277.32" stroke="#000" stroke-width="1.2"/>
<text x="201.2" y="280.92" font-size="9.0" text-anchor="end" font-weight="normal" fill="#2a2a2a" >50</text>
<line x1="204.3" y1="266.24" x2="207.6" y2="266.24" stroke="#000" stroke-width="1.2"/>
<text x="201.2" y="269.84" font-size="9.0" text-anchor="end" font-weight="normal" fill="#2a2a2a" >100</text>
<line x1="204.3" y1="255.16" x2="207.6" y2="255.16" stroke="#000" stroke-width="1.2"/>
<text x="201.2" y="258.76" font-size="9.0" text-anchor="end" font-weight="normal" fill="#2a2a2a" >150</text>
<line x1="204.3" y1="244.08" x2="207.6" y2="244.08" stroke="#000" stroke-width="1.2"/>
<text x="201.2" y="247.68" font-size="9.0" text-anchor="end" font-weight="normal" fill="#2a2a2a" >200</text>
<line x1="204.3" y1="233" x2="207.6" y2="233" stroke="#000" stroke-width="1.2"/>
<text x="201.2" y="236.6" font-size="9.0" text-anchor="end" font-weight="normal" fill="#2a2a2a" >250</text>
<line x1="204.3" y1="221.92" x2="207.6" y2="221.92" stroke="#000" stroke-width="1.2"/>
<text x="201.2" y="225.52" font-size="9.0" text-anchor="end" font-weight="normal" fill="#2a2a2a" >300</text>
<line x1="204.3" y1="210.84" x2="207.6" y2="210.84" stroke="#000" stroke-width="1.2"/>
<text x="201.2" y="214.44" font-size="9.0" text-anchor="end" font-weight="normal" fill="#2a2a2a" >350</text>
<line x1="204.3" y1="199.76" x2="207.6" y2="199.76" stroke="#000" stroke-width="1.2"/>
<text x="201.2" y="203.36" font-size="9.0" text-anchor="end" font-weight="normal" fill="#2a2a2a" >400</text>
<line x1="204.3" y1="188.68" x2="207.6" y2="188.68" stroke="#000" stroke-width="1.2"/>
<text x="201.2" y="192.28" font-size="9.0" text-anchor="end" font-weight="normal" fill="#2a2a2a" >450</text>
<line x1="204.3" y1="177.6" x2="207.6" y2="177.6" stroke="#000" stroke-width="1.2"/>
<text x="201.2" y="181.2" font-size="9.0" text-anchor="end" font-weight="normal" fill="#2a2a2a" >500</text>
<line x1="207.6" y1="288.4" x2="322.3" y2="288.4" stroke="#000" stroke-width="1.2"/>
<line x1="207.7" y1="288.4" x2="207.7" y2="291.6" stroke="#000" stroke-width="1.2"/>
<text x="207.7" y="302.3" font-size="8.6" text-anchor="middle" font-weight="normal" fill="#2a2a2a" >0</text>
<line x1="223.57" y1="288.4" x2="223.57" y2="291.6" stroke="#000" stroke-width="1.2"/>
<text x="223.57" y="302.3" font-size="8.6" text-anchor="middle" font-weight="normal" fill="#2a2a2a" >30</text>
<line x1="239.44" y1="288.4" x2="239.44" y2="291.6" stroke="#000" stroke-width="1.2"/>
<text x="239.44" y="302.3" font-size="8.6" text-anchor="middle" font-weight="normal" fill="#2a2a2a" >60</text>
<line x1="255.31" y1="288.4" x2="255.31" y2="291.6" stroke="#000" stroke-width="1.2"/>
<text x="255.31" y="302.3" font-size="8.6" text-anchor="middle" font-weight="normal" fill="#2a2a2a" >90</text>
<line x1="271.18" y1="288.4" x2="271.18" y2="291.6" stroke="#000" stroke-width="1.2"/>
<text x="271.18" y="302.3" font-size="8.6" text-anchor="middle" font-weight="normal" fill="#2a2a2a" >120</text>
<line x1="287.05" y1="288.4" x2="287.05" y2="291.6" stroke="#000" stroke-width="1.2"/>
<text x="287.05" y="302.3" font-size="8.6" text-anchor="middle" font-weight="normal" fill="#2a2a2a" >150</text>
<line x1="302.92" y1="288.4" x2="302.92" y2="291.6" stroke="#000" stroke-width="1.2"/>
<text x="302.92" y="302.3" font-size="8.6" text-anchor="middle" font-weight="normal" fill="#2a2a2a" >180</text>
<line x1="318.79" y1="288.4" x2="318.79" y2="291.6" stroke="#000" stroke-width="1.2"/>
<text x="318.79" y="302.3" font-size="8.6" text-anchor="middle" font-weight="normal" fill="#2a2a2a" >210</text>
<text x="264.3" y="187.7" font-size="8.2" text-anchor="middle" font-weight="normal" fill="#2a2a2a" >ADP (10 &#181;M)</text>
<polyline points="207.7,287.3 208.1,287.4 208.5,288.0 209.0,288.7 209.4,288.7 209.8,289.4 210.2,289.0 210.7,288.4 211.1,289.9 211.5,290.3 211.9,289.9 212.4,290.3 212.8,288.3 213.2,286.0 213.6,283.1 214.0,282.6 214.5,283.9 214.9,283.3 215.3,284.2 215.7,283.7 216.2,284.1 216.6,283.0 217.0,283.6 217.4,282.6 217.9,282.6 218.3,282.8 218.7,284.3 219.1,282.9 219.5,282.6 220.0,282.4 220.4,283.5 220.8,282.8 221.2,283.1 221.7,282.9 222.1,281.6 222.5,282.8 222.9,282.3 223.4,281.6 223.8,282.6 224.2,282.2 224.6,282.1 225.1,282.1 225.5,282.9 225.9,282.0 226.3,281.2 226.7,283.1 227.2,281.5 227.6,281.9 228.0,282.4 228.4,280.7 228.9,281.5 229.3,282.8 229.7,281.9 230.1,281.5 230.6,282.0 231.0,281.4 231.4,281.9 231.8,281.4 232.2,280.9 232.7,282.3 233.1,281.7 233.5,282.1 233.9,281.7 234.4,281.7 234.8,279.5 235.2,277.5 235.6,275.4 236.1,273.9 236.5,274.3 236.9,272.6 237.3,270.3 237.7,270.8 238.2,269.5 238.6,269.4 239.0,268.6 239.4,269.1 239.9,269.9 240.3,270.1 240.7,270.1 241.1,269.1 241.6,270.5 242.0,270.5 242.4,270.2 242.8,270.7 243.2,270.9 243.7,271.7 244.1,271.3 244.5,271.8 244.9,271.0 245.4,271.6 245.8,272.4 246.2,272.2 246.6,273.1 247.1,272.4 247.5,273.4 247.9,273.3 248.3,274.8 248.8,274.0 249.2,275.6 249.6,276.0 250.0,275.0 250.4,275.4 250.9,274.8 251.3,273.5 251.7,275.6 252.1,275.5 252.6,275.0 253.0,274.9 253.4,275.4 253.8,275.5 254.3,275.0 254.7,275.2 255.1,276.3 255.5,275.7 255.9,275.7 256.4,276.5 256.8,275.7 257.2,276.5 257.6,275.4 258.1,276.0 258.5,276.1 258.9,276.6 259.3,276.4 259.8,277.7 260.2,277.2 260.6,276.3 261.0,278.0 261.4,276.1 261.9,277.9 262.3,276.3 262.7,277.4 263.1,276.4 263.6,276.8 264.0,277.9 264.4,276.1 264.8,275.9 265.3,277.0 265.7,277.1 266.1,277.0 266.5,277.6 266.9,276.2 267.4,277.3 267.8,277.0 268.2,277.5 268.6,277.4 269.1,277.8 269.5,276.1 269.9,277.1 270.3,276.3 270.8,277.0 271.2,277.4 271.6,277.2 272.0,277.4 272.4,277.0 272.9,277.2 273.3,277.2 273.7,277.9 274.1,277.5 274.6,275.9 275.0,277.5 275.4,277.7 275.8,276.8 276.3,276.1 276.7,278.0 277.1,277.2 277.5,277.5 278.0,278.2 278.4,276.6 278.8,277.1 279.2,277.0 279.6,277.6 280.1,276.8 280.5,277.4 280.9,277.2 281.3,277.8 281.8,277.9 282.2,276.2 282.6,277.4 283.0,276.9 283.5,277.1 283.9,277.4 284.3,277.5 284.7,276.7 285.1,277.3 285.6,277.2 286.0,277.1 286.4,276.4 286.8,276.7 287.3,276.9 287.7,277.5 288.1,278.1 288.5,276.6 289.0,276.5 289.4,277.3 289.8,276.8 290.2,276.7 290.6,276.7 291.1,276.6 291.5,277.5 291.9,276.2 292.3,278.1 292.8,276.7 293.2,276.9 293.6,276.7 294.0,276.0 294.5,276.3 294.9,278.0 295.3,278.4 295.7,276.7 296.1,277.9 296.6,277.3 297.0,276.7 297.4,278.4 297.8,278.7 298.3,277.1 298.7,277.3 299.1,277.5 299.5,277.3 300.0,277.9 300.4,278.3 300.8,277.4 301.2,278.0 301.7,278.4 302.1,277.0 302.5,277.4 302.9,277.1 303.3,278.0 303.8,277.8 304.2,278.0 304.6,278.0 305.0,277.2 305.5,277.9 305.9,277.2 306.3,277.2 306.7,276.1 307.2,278.3 307.6,276.8 308.0,277.5 308.4,277.4 308.8,278.4 309.3,277.7 309.7,276.9 310.1,277.5 310.5,277.4 311.0,277.6 311.4,276.7 311.8,277.5 312.2,278.9 312.7,277.9 313.1,278.8 313.5,279.6 313.9,277.8 314.3,276.6 314.8,277.5 315.2,278.3 315.6,278.1 316.0,276.8 316.5,277.4 316.9,277.5 317.3,277.6 317.7,277.5 318.2,277.0 318.6,277.2" fill="none" stroke="#233b6f" stroke-width="1.7" stroke-linejoin="round"/>
<polyline points="207.7,289.2 208.1,289.0 208.5,289.2 209.0,288.3 209.4,290.7 209.8,288.6 210.2,290.1 210.7,288.6 211.1,289.1 211.5,288.9 211.9,288.9 212.4,289.1 212.8,287.4 213.2,286.5 213.6,289.3 214.0,288.3 214.5,289.5 214.9,287.7 215.3,290.0 215.7,289.1 216.2,288.2 216.6,284.7 217.0,278.7 217.4,276.4 217.9,276.9 218.3,277.0 218.7,276.9 219.1,276.4 219.5,278.6 220.0,274.9 220.4,277.5 220.8,279.0 221.2,276.5 221.7,274.8 222.1,276.9 222.5,274.6 222.9,274.6 223.4,277.2 223.8,278.9 224.2,277.6 224.6,274.9 225.1,277.1 225.5,277.8 225.9,277.6 226.3,276.1 226.7,276.1 227.2,275.1 227.6,275.0 228.0,277.1 228.4,276.2 228.9,277.3 229.3,275.9 229.7,277.3 230.1,277.3 230.6,273.6 231.0,275.9 231.4,275.2 231.8,273.1 232.2,275.0 232.7,276.0 233.1,275.8 233.5,276.7 233.9,274.6 234.4,276.2 234.8,273.8 235.2,276.2 235.6,271.1 236.1,265.5 236.5,254.6 236.9,248.0 237.3,247.0 237.7,249.5 238.2,248.9 238.6,247.4 239.0,250.2 239.4,249.7 239.9,250.8 240.3,254.3 240.7,257.9 241.1,261.3 241.6,256.7 242.0,259.1 242.4,258.5 242.8,260.7 243.2,258.5 243.7,260.3 244.1,261.1 244.5,262.4 244.9,261.3 245.4,262.4 245.8,262.2 246.2,264.0 246.6,262.9 247.1,262.3 247.5,264.0 247.9,262.7 248.3,262.2 248.8,263.5 249.2,264.0 249.6,264.2 250.0,262.6 250.4,265.5 250.9,264.3 251.3,264.6 251.7,264.1 252.1,264.4 252.6,265.6 253.0,262.2 253.4,264.3 253.8,266.0 254.3,265.6 254.7,264.5 255.1,264.0 255.5,266.3 255.9,264.0 256.4,266.4 256.8,265.8 257.2,264.1 257.6,263.2 258.1,265.2 258.5,265.5 258.9,263.8 259.3,266.5 259.8,265.0 260.2,265.1 260.6,264.3 261.0,265.2 261.4,265.9 261.9,264.9 262.3,266.9 262.7,264.8 263.1,266.5 263.6,266.9 264.0,266.3 264.4,265.9 264.8,265.2 265.3,266.2 265.7,265.1 266.1,264.8 266.5,266.0 266.9,266.9 267.4,264.8 267.8,265.4 268.2,268.1 268.6,266.8 269.1,265.5 269.5,267.1 269.9,266.3 270.3,267.4 270.8,265.0 271.2,265.2 271.6,265.2 272.0,263.8 272.4,265.7 272.9,265.6 273.3,263.0 273.7,266.6 274.1,264.4 274.6,266.6 275.0,264.8 275.4,262.7 275.8,264.7 276.3,265.8 276.7,262.3 277.1,265.5 277.5,265.1 278.0,264.5 278.4,266.3 278.8,263.5 279.2,262.9 279.6,263.8 280.1,264.3 280.5,264.7 280.9,263.6 281.3,268.0 281.8,264.6 282.2,264.1 282.6,266.6 283.0,263.8 283.5,264.4 283.9,264.2 284.3,264.0 284.7,263.5 285.1,263.5 285.6,265.1 286.0,264.1 286.4,264.1 286.8,263.8 287.3,264.4 287.7,262.6 288.1,262.2 288.5,261.9 289.0,261.3 289.4,261.7 289.8,264.0 290.2,264.1 290.6,263.8 291.1,262.6 291.5,263.4 291.9,261.9 292.3,261.0 292.8,263.6 293.2,261.8 293.6,263.5 294.0,264.6 294.5,264.6 294.9,263.3 295.3,265.4 295.7,262.0 296.1,260.6 296.6,264.2 297.0,263.0 297.4,260.3 297.8,261.9 298.3,262.1 298.7,262.7 299.1,260.8 299.5,261.7 300.0,263.8 300.4,265.8 300.8,266.2 301.2,261.0 301.7,262.4 302.1,259.6 302.5,261.0 302.9,263.8 303.3,261.2 303.8,259.7 304.2,263.1 304.6,262.4 305.0,258.6 305.5,264.4 305.9,263.2 306.3,259.5 306.7,260.9 307.2,263.2 307.6,263.7 308.0,260.3 308.4,258.9 308.8,259.5 309.3,260.1 309.7,258.0 310.1,260.2 310.5,262.4 311.0,256.6 311.4,263.1 311.8,260.8 312.2,260.6 312.7,257.3 313.1,261.9 313.5,260.8 313.9,264.1 314.3,259.2 314.8,258.9 315.2,258.3 315.6,262.0 316.0,259.1 316.5,261.8 316.9,260.7 317.3,259.6 317.7,256.0 318.2,260.4 318.6,258.7" fill="none" stroke="#aa0530" stroke-width="1.8" stroke-linejoin="round"/>
<text x="276.2" y="252.1" font-size="7.9" fill="#803752">RGS10<tspan font-size="4.9" dy="-3.2">-/-</tspan></text>
<text x="303.1" y="273.1" font-size="7.6" text-anchor="start" font-weight="normal" fill="#3b4763" >WT</text>
<text x="264.9" y="315.5" font-size="8.9" text-anchor="middle" font-weight="bold" fill="#1a1a1a" textLength="25.6" lengthAdjust="spacingAndGlyphs">Seconds</text>
<line x1="49.4" y1="351.3" x2="49.4" y2="477.7" stroke="#000" stroke-width="1.2"/>
<line x1="46.1" y1="477.1" x2="49.4" y2="477.1" stroke="#000" stroke-width="1.2"/>
<text x="42.6" y="479.5" font-size="7.9" text-anchor="end" font-weight="normal" fill="#2a2a2a" >0</text>
<line x1="46.1" y1="459.57" x2="49.4" y2="459.57" stroke="#000" stroke-width="1.2"/>
<text x="42.6" y="461.97" font-size="7.9" text-anchor="end" font-weight="normal" fill="#2a2a2a" >100</text>
<line x1="46.1" y1="442.04" x2="49.4" y2="442.04" stroke="#000" stroke-width="1.2"/>
<text x="42.6" y="444.44" font-size="7.9" text-anchor="end" font-weight="normal" fill="#2a2a2a" >200</text>
<line x1="46.1" y1="424.51" x2="49.4" y2="424.51" stroke="#000" stroke-width="1.2"/>
<text x="42.6" y="426.91" font-size="7.9" text-anchor="end" font-weight="normal" fill="#2a2a2a" >300</text>
<line x1="46.1" y1="406.98" x2="49.4" y2="406.98" stroke="#000" stroke-width="1.2"/>
<text x="42.6" y="409.38" font-size="7.9" text-anchor="end" font-weight="normal" fill="#2a2a2a" >400</text>
<line x1="46.1" y1="389.45" x2="49.4" y2="389.45" stroke="#000" stroke-width="1.2"/>
<text x="42.6" y="391.85" font-size="7.9" text-anchor="end" font-weight="normal" fill="#2a2a2a" >500</text>
<line x1="46.1" y1="371.92" x2="49.4" y2="371.92" stroke="#000" stroke-width="1.2"/>
<text x="42.6" y="374.32" font-size="7.9" text-anchor="end" font-weight="normal" fill="#2a2a2a" >600</text>
<line x1="46.1" y1="354.39" x2="49.4" y2="354.39" stroke="#000" stroke-width="1.2"/>
<text x="42.6" y="356.79" font-size="7.9" text-anchor="end" font-weight="normal" fill="#2a2a2a" >700</text>
<line x1="46.2" y1="477.1" x2="231.2" y2="477.1" stroke="#000" stroke-width="1.2"/>
<line x1="66.3" y1="404.88" x2="66.3" y2="420.3" stroke="#000" stroke-width="1.3"/>
<line x1="64.3" y1="404.88" x2="68.3" y2="404.88" stroke="#000" stroke-width="1.2"/>
<rect x="61" y="420.3" width="10.6" height="56.8" fill="#2d4d88"/>
<line x1="78.9" y1="369.47" x2="78.9" y2="394.36" stroke="#000" stroke-width="1.3"/>
<line x1="76.9" y1="369.47" x2="80.9" y2="369.47" stroke="#000" stroke-width="1.2"/>
<rect x="73.6" y="394.36" width="10.6" height="82.74" fill="#aa0530"/>
<line x1="111.5" y1="452.38" x2="111.5" y2="455.01" stroke="#000" stroke-width="1.3"/>
<line x1="109.5" y1="452.38" x2="113.5" y2="452.38" stroke="#000" stroke-width="1.2"/>
<rect x="106.2" y="455.01" width="10.6" height="22.09" fill="#2d4d88"/>
<line x1="124.1" y1="427.49" x2="124.1" y2="432.4" stroke="#000" stroke-width="1.3"/>
<line x1="122.1" y1="427.49" x2="126.1" y2="427.49" stroke="#000" stroke-width="1.2"/>
<rect x="118.8" y="432.4" width="10.6" height="44.7" fill="#aa0530"/>
<line x1="156.7" y1="448.7" x2="156.7" y2="450.81" stroke="#000" stroke-width="1.3"/>
<line x1="154.7" y1="448.7" x2="158.7" y2="448.7" stroke="#000" stroke-width="1.2"/>
<rect x="151.4" y="450.81" width="10.6" height="26.3" fill="#2d4d88"/>
<line x1="169.3" y1="421.71" x2="169.3" y2="427.84" stroke="#000" stroke-width="1.3"/>
<line x1="167.3" y1="421.71" x2="171.3" y2="421.71" stroke="#000" stroke-width="1.2"/>
<rect x="164" y="427.84" width="10.6" height="49.26" fill="#aa0530"/>
<line x1="201.9" y1="460.8" x2="201.9" y2="461.85" stroke="#000" stroke-width="1.3"/>
<line x1="199.9" y1="460.8" x2="203.9" y2="460.8" stroke="#000" stroke-width="1.2"/>
<rect x="196.6" y="461.85" width="10.6" height="15.25" fill="#2d4d88"/>
<line x1="214.5" y1="450.45" x2="214.5" y2="452.91" stroke="#000" stroke-width="1.3"/>
<line x1="212.5" y1="450.45" x2="216.5" y2="450.45" stroke="#000" stroke-width="1.2"/>
<rect x="209.2" y="452.91" width="10.6" height="24.19" fill="#aa0530"/>
<text x="70.9" y="489.9" font-size="8.3" text-anchor="middle" font-weight="normal" fill="#2a2a2a" >AYPGKF</text>
<text x="70.9" y="499.3" font-size="8.3" text-anchor="middle" font-weight="normal" fill="#2a2a2a" >500&#181;M</text>
<text x="117.4" y="489.9" font-size="8.3" text-anchor="middle" font-weight="normal" fill="#2a2a2a" >AYPGKF</text>
<text x="117.4" y="499.3" font-size="8.3" text-anchor="middle" font-weight="normal" fill="#2a2a2a" >100&#181;M</text>
<text x="163.9" y="489.9" font-size="8.3" text-anchor="middle" font-weight="normal" fill="#2a2a2a" >U46619</text>
<text x="163.9" y="499.3" font-size="8.3" text-anchor="middle" font-weight="normal" fill="#2a2a2a" >10&#181;M</text>
<text x="210.4" y="489.9" font-size="8.3" text-anchor="middle" font-weight="normal" fill="#2a2a2a" >ADP</text>
<text x="210.4" y="499.3" font-size="8.3" text-anchor="middle" font-weight="normal" fill="#2a2a2a" >10&#181;M</text>
<text x="68.2" y="365.6" font-size="7.8" text-anchor="middle" font-weight="normal" fill="#2a2a2a" >N.S.</text>
<text x="118" y="417.2" font-size="7.8" text-anchor="middle" font-weight="normal" fill="#2a2a2a" >p=0.004</text>
<text x="161" y="410" font-size="7.8" text-anchor="middle" font-weight="normal" fill="#2a2a2a" >p=0.01</text>
<text x="208.4" y="434.6" font-size="7.8" text-anchor="middle" font-weight="normal" fill="#2a2a2a" >p=0.01</text>
<rect x="128" y="369.7" width="7.8" height="4.6" fill="#2d4d88"/>
<rect x="128" y="382" width="7.8" height="4.6" fill="#aa0530"/>
<text x="140" y="375.4" font-size="8.2" text-anchor="start" font-weight="normal" fill="#2a2a2a" >WT</text>
<text x="140" y="386.9" font-size="8.2" fill="#2a2a2a">RGS10<tspan font-size="5.08" dy="-3.2">-/-</tspan></text>
<text transform="translate(21.8,414) rotate(-90)" x="0" y="0" font-size="8.8" text-anchor="middle" font-weight="bold" fill="#2a2a2a" textLength="41.5" lengthAdjust="spacingAndGlyphs">&#916;[Ca<tspan font-size="6.5" dy="-3">++</tspan><tspan dy="3">]</tspan><tspan font-size="5.5" dy="1.5">i</tspan><tspan dy="-1.5">, nM</tspan></text>
<text x="361.6" y="71.8" font-size="8.2" text-anchor="start" font-weight="normal" fill="#2a2a2a" >Minutes:</text>
<text x="472" y="55.9" font-size="8.4" text-anchor="middle" font-weight="normal" fill="#2a2a2a" >AYPGKF</text>
<line x1="446.7" y1="59.5" x2="496.4" y2="59.5" stroke="#000" stroke-width="1.3"/>
<text x="464.8" y="70.9" font-size="8.8" text-anchor="middle" font-weight="normal" fill="#2a2a2a" >3</text>
<text x="491.9" y="70.9" font-size="8.8" text-anchor="middle" font-weight="normal" fill="#2a2a2a" >3</text>
<text x="362" y="88.7" font-size="8.3" text-anchor="start" font-weight="normal" fill="#2a2a2a" >IB: pMLC</text>
<text x="362" y="115.2" font-size="8.3" text-anchor="start" font-weight="normal" fill="#2a2a2a" >IB: MLC</text>
<rect x="400.8" y="75" width="111.4" height="22" fill="#9b9b9b"/>
<rect x="400.8" y="102.2" width="111.4" height="18.6" fill="#979797"/>
<ellipse cx="462.3" cy="85.6" rx="10" ry="1.0" fill="#626262"/>
<ellipse cx="491.0" cy="85.4" rx="10.8" ry="1.4" fill="#353535"/>
<rect x="408.5" y="110.60000000000001" width="23.0" height="4.6" rx="5.2" ry="2.3" fill="#1e1e1e"/>
<rect x="432.2" y="110.60000000000001" width="23.2" height="4.2" rx="5.2" ry="2.1" fill="#1e1e1e"/>
<rect x="455.9" y="110.5" width="23.2" height="4.6" rx="5.2" ry="2.3" fill="#1e1e1e"/>
<rect x="482.29999999999995" y="111.0" width="21.2" height="3.8" rx="4.8" ry="1.9" fill="#1e1e1e"/>
<rect x="402" y="75" width="1" height="22" fill="#8e8e8e"/>
<rect x="404.5" y="75" width="0.8" height="22" fill="#939393"/>
<text transform="translate(424.5,131.2) rotate(-45)" font-size="8.2" text-anchor="end" fill="#2a2a2a">WT</text>
<text transform="translate(472.6,131.2) rotate(-45)" font-size="8.2" text-anchor="end" fill="#2a2a2a">WT</text>
<text transform="translate(452.0,132.0) rotate(-45)" font-size="8.2" text-anchor="end" fill="#2a2a2a">RGS10<tspan font-size="5" dy="-3">-/-</tspan></text>
<text transform="translate(499.5,132.0) rotate(-45)" font-size="8.2" text-anchor="end" fill="#2a2a2a">RGS10<tspan font-size="5" dy="-3">-/-</tspan></text>
<line x1="422.5" y1="176.8" x2="422.5" y2="304.1" stroke="#000" stroke-width="1.2"/>
<line x1="419.2" y1="303.5" x2="422.5" y2="303.5" stroke="#000" stroke-width="1.2"/>
<text x="416.6" y="306.7" font-size="9.0" text-anchor="end" font-weight="normal" fill="#2a2a2a" >0%</text>
<line x1="419.2" y1="278.6" x2="422.5" y2="278.6" stroke="#000" stroke-width="1.2"/>
<text x="416.6" y="281.8" font-size="9.0" text-anchor="end" font-weight="normal" fill="#2a2a2a" >50%</text>
<line x1="419.2" y1="253.7" x2="422.5" y2="253.7" stroke="#000" stroke-width="1.2"/>
<text x="416.6" y="256.9" font-size="9.0" text-anchor="end" font-weight="normal" fill="#2a2a2a" >100%</text>
<line x1="419.2" y1="228.8" x2="422.5" y2="228.8" stroke="#000" stroke-width="1.2"/>
<text x="416.6" y="232" font-size="9.0" text-anchor="end" font-weight="normal" fill="#2a2a2a" >150%</text>
<line x1="419.2" y1="203.9" x2="422.5" y2="203.9" stroke="#000" stroke-width="1.2"/>
<text x="416.6" y="207.1" font-size="9.0" text-anchor="end" font-weight="normal" fill="#2a2a2a" >200%</text>
<line x1="419.2" y1="179" x2="422.5" y2="179" stroke="#000" stroke-width="1.2"/>
<text x="416.6" y="182.2" font-size="9.0" text-anchor="end" font-weight="normal" fill="#2a2a2a" >250%</text>
<line x1="422" y1="303.5" x2="511.3" y2="303.5" stroke="#000" stroke-width="1.2"/>
<line x1="422.5" y1="303.5" x2="422.5" y2="306.5" stroke="#000" stroke-width="1.2"/>
<line x1="465.8" y1="303.5" x2="465.8" y2="306.5" stroke="#000" stroke-width="1.2"/>
<line x1="509" y1="303.5" x2="509" y2="306.5" stroke="#000" stroke-width="1.2"/>
<rect x="435.4" y="253.7" width="17.4" height="49.8" fill="#2d4d88"/>
<line x1="442.4" y1="253.3" x2="446.4" y2="253.3" stroke="#000" stroke-width="0.8"/>
<line x1="487.3" y1="206.9" x2="487.3" y2="217.4" stroke="#000" stroke-width="1.1"/>
<line x1="485.3" y1="206.9" x2="489.3" y2="206.9" stroke="#000" stroke-width="1.1"/>
<rect x="478.6" y="217.4" width="17.4" height="86.1" fill="#aa0530"/>
<polyline points="438.1,198.2 438.1,190.3 487.3,190.3 487.3,198.2" fill="none" stroke="#000" stroke-width="1.2"/>
<text x="462.3" y="185.4" font-size="8.0" text-anchor="middle" font-weight="normal" fill="#2a2a2a" >p=0.01</text>
<text x="444" y="317" font-size="8.3" text-anchor="middle" font-weight="normal" fill="#2a2a2a" >WT</text>
<text x="471" y="317" font-size="8.3" fill="#2a2a2a">RGS10<tspan font-size="5.15" dy="-3.2">-/-</tspan></text>
<text transform="translate(388.8,233.4) rotate(-90)" x="0" y="0" font-size="9.2" text-anchor="middle" font-weight="bold" fill="#2a2a2a" textLength="79.5" lengthAdjust="spacingAndGlyphs">Relative MLC phosphorylation</text>
</svg>
<div id="frame"></div>
</div>
</body></html>
